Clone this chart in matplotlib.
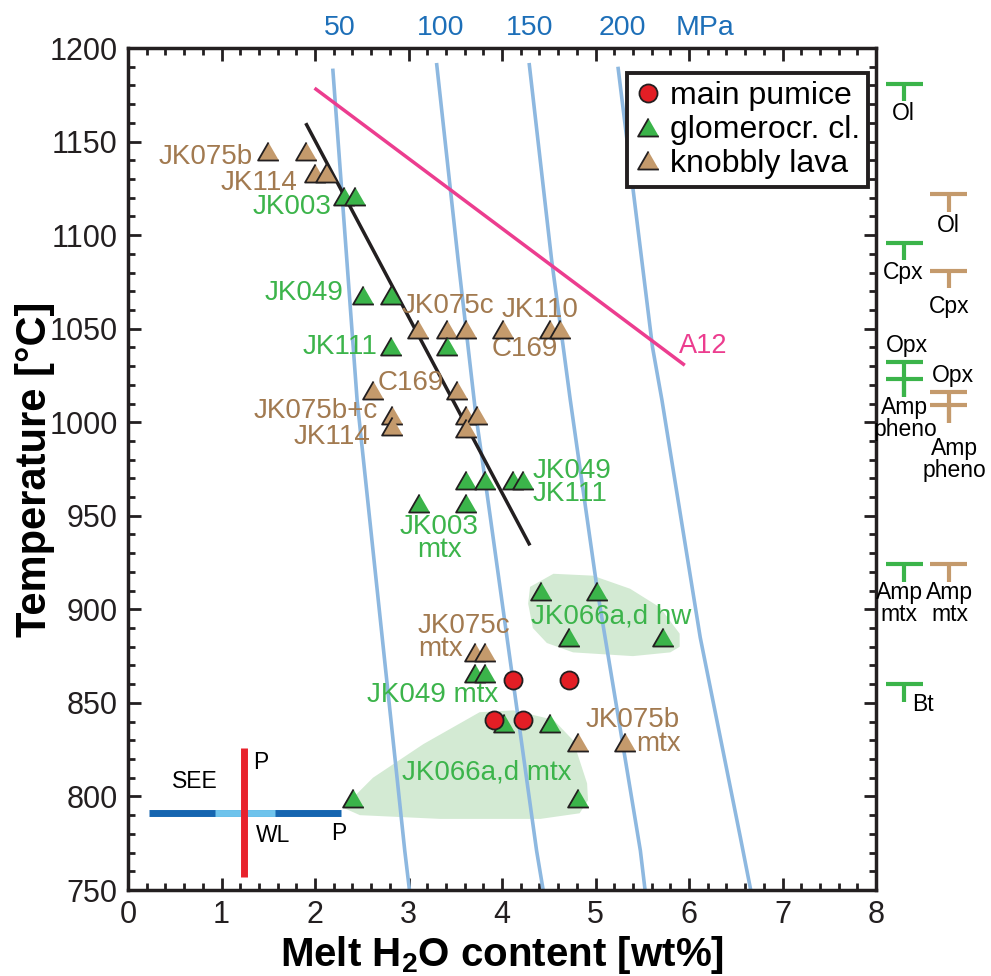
import numpy as np
import matplotlib
matplotlib.use('Agg')
import matplotlib.pyplot as plt
from matplotlib.lines import Line2D
from matplotlib.patches import Polygon

plt.rcParams['font.family'] = ['Liberation Sans', 'DejaVu Sans']
plt.rcParams['mathtext.fontset'] = 'custom'
plt.rcParams['mathtext.rm'] = 'Liberation Sans'
plt.rcParams['mathtext.bf'] = 'Liberation Sans:bold'

# ---------------- data ----------------
pumice_h2o = [4.12, 4.72, 3.91, 4.22]
pumice_T = [862, 862, 841, 841]

glom_h2o = [2.31, 2.43, 2.51, 2.81, 2.81, 3.41, 3.61, 3.82, 4.12, 4.22, 3.11, 3.61,
            4.42, 5.02, 4.72, 5.72, 3.71, 3.82, 4.02, 4.51, 2.41, 4.81]
glom_T = [1121, 1121, 1068, 1068, 1041, 1041, 969, 969, 969, 969, 957, 957,
          910, 910, 885, 885, 866, 866, 839, 839, 799, 799]

lava_h2o = [1.50, 1.90, 2.00, 2.12, 3.10, 3.41, 3.61, 4.01, 4.51, 4.62, 2.62, 3.52,
            2.82, 2.82, 3.61, 3.73, 3.61, 3.71, 3.82, 4.81, 5.32]
lava_T = [1145, 1145, 1133, 1133, 1050, 1050, 1050, 1050, 1050, 1050, 1017, 1017,
          1004, 998, 1004, 1004, 997, 877, 877, 829, 829]

trend_h2o = [1.91, 4.29]
trend_T = [1159, 935]

a12_h2o = [2.01, 5.94]
a12_T = [1178, 1031]

pressures = ['50', '100', '150', '200']
iso50_h2o = [2.19, 2.34, 2.45, 2.96, 3.01]
iso50_T = [1189, 1087, 1012, 771, 750]
iso100_h2o = [3.30, 3.53, 3.72, 3.82, 4.37, 4.44]
iso100_T = [1192, 1087, 1004, 969, 771, 750]
iso150_h2o = [4.29, 4.53, 4.73, 5.02, 5.48, 5.53]
iso150_T = [1192, 1087, 1012, 910, 771, 750]
iso200_h2o = [5.24, 5.61, 5.71, 6.12, 6.55, 6.66]
iso200_T = [1190, 1040, 1012, 885, 778, 750]

hw_h2o = [4.30, 4.55, 4.97, 5.37, 5.69, 5.90, 5.90, 5.80, 5.40, 4.76, 4.48, 4.33, 4.28]
hw_T = [912, 919, 918, 911, 901, 887, 880, 877, 875, 877, 882, 890, 903]
mtx_h2o = [2.30, 2.62, 3.16, 3.76, 4.12, 4.55, 4.76, 4.91, 4.92, 4.83, 4.41, 3.34, 2.48]
mtx_T = [794, 810, 828, 845, 846, 841, 830, 807, 798, 791, 788, 788, 790]

# mineral saturation temperatures (green = glomerocryst, brown = knobbly lava)
green_min = ['Ol', 'Cpx', 'Opx', 'Amp pheno', 'Amp mtx', 'Bt']
green_min_T = [1181, 1096, 1032, 1023, 924, 860]
brown_min = ['Ol', 'Cpx', 'Opx', 'Amp pheno', 'Amp mtx']
brown_min_T = [1122, 1081, 1016, 1009, 924]

# uncertainty bars
see_h2o = [0.22, 2.28]
wl_h2o = [0.93, 1.57]
err_T = 791
p_T = [826, 757]
p_h2o = 1.24

GREEN = '#3bb44a'
BROWN = '#c49a6c'
BROWN_TXT = '#a27a50'
GREEN_TXT = '#3cb44b'
RED = '#e31e25'
EDGE = '#231f20'
ISO = '#8db8e0'
PINK = '#ec3d8f'
PBLUE = '#1d6fb8'

tri = [(0, 0.866), (-1, -0.866), (1, -0.866)]

fig = plt.figure(figsize=(9.91, 9.76), dpi=100)
ax = fig.add_axes([128/991, 1-890/976, 748/991, 842/976])
ax.set_xlim(0, 8)
ax.set_ylim(750, 1200)

# shaded regions
ax.add_patch(Polygon(np.column_stack([hw_h2o, hw_T]), closed=True, fc='#d3ead3', ec='none', zorder=1))
ax.add_patch(Polygon(np.column_stack([mtx_h2o, mtx_T]), closed=True, fc='#d3ead3', ec='none', zorder=1))

# isobars
for xs, ts in [(iso50_h2o, iso50_T), (iso100_h2o, iso100_T), (iso150_h2o, iso150_T), (iso200_h2o, iso200_T)]:
    ax.plot(xs, ts, color=ISO, lw=2.6, zorder=2, solid_capstyle='butt')

# trend + A12
ax.plot(trend_h2o, trend_T, color=EDGE, lw=2.5, zorder=3)
ax.plot(a12_h2o, a12_T, color=PINK, lw=2.5, zorder=3)
ax.text(6.15, 1041, 'A12', color=PINK, fontsize=19.5, ha='center', va='center')

# points
ax.plot(lava_h2o, lava_T, ls='none', marker=tri, ms=15, mfc=BROWN, mec=EDGE, mew=1.3, zorder=4)
ax.plot(glom_h2o, glom_T, ls='none', marker=tri, ms=15, mfc=GREEN, mec=EDGE, mew=1.3, zorder=5)
ax.plot(pumice_h2o, pumice_T, ls='none', marker='o', ms=13, mfc=RED, mec=EDGE, mew=1.3, zorder=6)

# error bars
ax.plot(see_h2o, [err_T, err_T], color='#1565b0', lw=5, solid_capstyle='butt', zorder=3)
ax.plot(wl_h2o, [err_T, err_T], color='#6ec3ec', lw=5, solid_capstyle='butt', zorder=3)
ax.plot([p_h2o, p_h2o], p_T, color='#e8222c', lw=5, solid_capstyle='butt', zorder=3)
ax.text(0.72, 808, 'SEE', fontsize=16.5, ha='center', va='center')
ax.text(1.34, 818, 'P', fontsize=16.5, ha='left', va='center')
ax.text(1.55, 779, 'WL', fontsize=16.5, ha='center', va='center')
ax.text(2.25, 780, 'P', fontsize=16.5, ha='center', va='center')

# sample labels
lab = dict(fontsize=20, va='center')
ax.text(1.33, 1142, 'JK075b', color=BROWN_TXT, ha='right', **lab)
ax.text(1.81, 1128, 'JK114', color=BROWN_TXT, ha='right', **lab)
ax.text(2.18, 1115, 'JK003', color=GREEN_TXT, ha='right', **lab)
ax.text(2.30, 1069, 'JK049', color=GREEN_TXT, ha='right', **lab)
ax.text(3.42, 1062, 'JK075c', color=BROWN_TXT, ha='center', **lab)
ax.text(4.41, 1060, 'JK110', color=BROWN_TXT, ha='center', **lab)
ax.text(2.67, 1040, 'JK111', color=GREEN_TXT, ha='right', **lab)
ax.text(4.24, 1039, 'C169', color=BROWN_TXT, ha='center', **lab)
ax.text(3.02, 1021, 'C169', color=BROWN_TXT, ha='center', **lab)
ax.text(2.67, 1006, 'JK075b+c', color=BROWN_TXT, ha='right', **lab)
ax.text(2.59, 992, 'JK114', color=BROWN_TXT, ha='right', **lab)
ax.text(4.33, 968, 'JK049\nJK111', color=GREEN_TXT, ha='left', linespacing=0.85, **lab)
ax.text(3.33, 938, 'JK003\nmtx', color=GREEN_TXT, ha='center', linespacing=0.85, **lab)
ax.text(5.17, 896, 'JK066a,d hw', color=GREEN_TXT, ha='center', **lab)
ax.text(3.10, 885, 'JK075c\nmtx', color=BROWN_TXT, ha='left', linespacing=0.85, **lab)
ax.text(3.26, 854, 'JK049 mtx', color=GREEN_TXT, ha='center', **lab)
ax.text(5.40, 841, 'JK075b', color=BROWN_TXT, ha='center', **lab)
ax.text(5.67, 828, 'mtx', color=BROWN_TXT, ha='center', **lab)
ax.text(3.84, 813, 'JK066a,d mtx', color=GREEN_TXT, ha='center', **lab)

# pressure labels on top
for p, xp in zip(pressures + ['MPa'], [2.27, 3.34, 4.30, 5.29, 6.17]):
    ax.text(xp, 1.024, p, color=PBLUE, fontsize=20.5, ha='center', va='center',
            transform=ax.get_xaxis_transform())

# mineral T symbols (outside the axes)
def tee(xc, x0, x1, T, col, stem=9.5):
    ax.plot([x0, x1], [T, T], color=col, lw=3, clip_on=False, solid_capstyle='butt')
    ax.plot([xc, xc], [T, T - stem], color=col, lw=3, clip_on=False, solid_capstyle='butt')

gx = (8.30, 8.107, 8.50)
bx = (8.78, 8.58, 8.97)
for name, T in zip(green_min, green_min_T):
    stem = 18.5 if name == 'Opx' else 9.5
    tee(*gx, T, GREEN, stem)
for name, T in zip(brown_min, brown_min_T):
    stem = 16.5 if name == 'Opx' else 9.5
    tee(*bx, T, BROWN, stem)

mk = dict(fontsize=16.5, ha='center', va='center', clip_on=False, linespacing=0.92)
ax.text(8.29, 1165, 'Ol', **mk)
ax.text(8.77, 1105, 'Ol', **mk)
ax.text(8.29, 1080, 'Cpx', **mk)
ax.text(8.78, 1062, 'Cpx', **mk)
ax.text(8.33, 1041, 'Opx', **mk)
ax.text(8.31, 1002, 'Amp\npheno', **mk)
ax.text(8.82, 1025, 'Opx', **mk)
ax.text(8.84, 980, 'Amp\npheno', **mk)
ax.text(8.25, 903, 'Amp\nmtx', **mk)
ax.text(8.79, 903, 'Amp\nmtx', **mk)
ax.text(8.39, 849, 'Bt', fontsize=16.5, ha='left', va='center', clip_on=False)

# axes styling
ax.set_xticks(np.arange(0, 9, 1))
ax.set_yticks(np.arange(750, 1201, 50))
ax.set_xticks(np.arange(0, 8.01, 0.2), minor=True)
ax.set_yticks(np.arange(750, 1201, 10), minor=True)
ax.tick_params(which='both', direction='in', top=True, right=True, width=2, colors='#231f20')
ax.tick_params(which='major', length=9, labelsize=22, pad=7.5)
ax.tick_params(which='minor', length=5)
for s in ax.spines.values():
    s.set_linewidth(2.5)
    s.set_color('#231f20')

ax.set_xlabel(r'Melt H$_\mathbf{2}$O content [wt%]', fontsize=29, fontweight='bold')
ax.set_ylabel('Temperature [°C]', fontsize=30, fontweight='bold')
ax.xaxis.set_label_coords(0.5, -0.052)
ax.yaxis.set_label_coords(-0.097, 0.5)

handles = [
    Line2D([], [], ls='none', marker='o', ms=13, mfc=RED, mec=EDGE, mew=1.3, label='main pumice'),
    Line2D([], [], ls='none', marker=tri, ms=15, mfc=GREEN, mec=EDGE, mew=1.3, label='glomerocr. cl.'),
    Line2D([], [], ls='none', marker=tri, ms=15, mfc=BROWN, mec=EDGE, mew=1.3, label='knobbly lava'),
]
leg = ax.legend(handles=handles, loc='upper right', bbox_to_anchor=(0.9893, 0.9703), borderaxespad=0,
                fontsize=23, frameon=True, fancybox=False, edgecolor='#231f20', framealpha=1,
                handlelength=0.8, handletextpad=0.3, labelspacing=0.12, borderpad=0.25)
leg.get_frame().set_linewidth(2.8)
leg.set_zorder(10)

fig.savefig('out.png', dpi=100)
